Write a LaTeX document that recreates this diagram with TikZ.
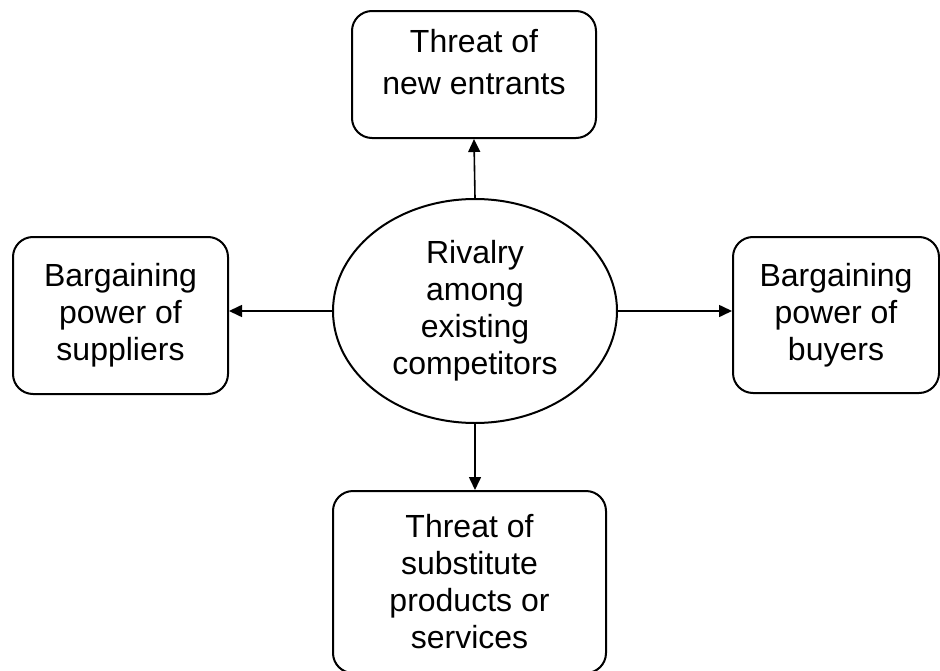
\documentclass[tikz,border=0pt]{standalone}
\usepackage{fontspec}
\setmainfont{Liberation Sans}
\usetikzlibrary{arrows.meta,shapes.geometric}

\tikzset{
  force/.style={draw, line width=1.5pt, rounded corners=15pt, inner sep=0pt, align=center,
    font=\fontsize{24pt}{27.75pt}\selectfont},
  forcetext/.style={inner sep=0pt, align=center, font=\fontsize{24pt}{31.5pt}\selectfont},
  rivalry/.style={draw, ellipse, line width=1.5pt, inner sep=0pt, align=center,
    font=\fontsize{24pt}{27.75pt}\selectfont},
  push/.style={-{Triangle[length=9.75pt,width=9pt]}, line width=1.2pt},
}

\begin{document}
\begin{tikzpicture}[x=0.75pt,y=0.75pt,yscale=-1,xscale=1]
\useasboundingbox (0,0) rectangle (940,671);

%Shape: Ellipse
\node [rivalry, minimum width=213pt, minimum height=168pt] (rival) at (475,311) {Rivalry\\among\\existing\\competitors};

%Shape: Rounded Rect
\node [force, minimum width=183pt, minimum height=95.25pt] (newent) at (474,74.5) {};
% Text Node
\node [forcetext] (newenttext) at (474,62) {Threat of\\new entrants};
%Shape: Rounded Rect
\node [force, minimum width=161.25pt, minimum height=117.75pt] (supp) at (120.5,315.5) {Bargaining\\power of\\suppliers};
%Shape: Rounded Rect
\node [force, minimum width=154.5pt, minimum height=117pt] (buy) at (836,315) {Bargaining\\power of\\buyers};
%Shape: Rounded Rect
\node [force, minimum width=204.75pt, minimum height=136.5pt] (subst) at (469.5,582) {Threat of\\substitute\\products or\\services};

%Straight Lines
\draw [push] (rival.north) -- (newent.south);
\draw [push] (rival.west) -- (rival.west -| supp.east);
\draw [push] (rival.east) -- (rival.east -| buy.west);
\draw [push] (rival.south) -- (rival.south |- subst.north);

\end{tikzpicture}
\end{document}
